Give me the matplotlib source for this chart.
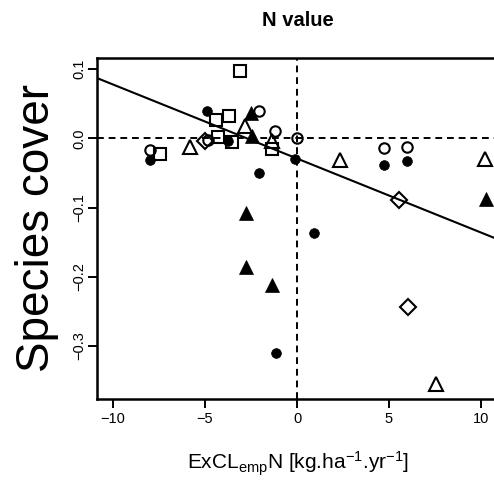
import matplotlib
matplotlib.use("Agg")
import matplotlib.pyplot as plt

plt.rcParams['font.family'] = ['Liberation Sans', 'DejaVu Sans']
plt.rcParams['mathtext.fontset'] = 'custom'
plt.rcParams['mathtext.rm'] = 'Liberation Sans'
plt.rcParams['mathtext.it'] = 'Liberation Sans'

# Exceedance of empirical critical load (x) vs change in species cover (y)
filled_circle_x = [-7.99, -4.90, -3.75, -2.05, -0.10, 0.92, 4.75, 5.96, -1.16]
filled_circle_y = [-0.031, 0.039, -0.003, -0.050, -0.030, -0.137, -0.039, -0.032, -0.310]

filled_triangle_x = [-2.77, -2.77, -1.38, 10.27, -2.50, -2.42]
filled_triangle_y = [-0.108, -0.186, -0.212, -0.087, 0.037, 0.003]

open_triangle_x = [-5.80, -2.85, -1.38, 2.34, 10.20, 7.55]
open_triangle_y = [-0.012, 0.018, -0.003, -0.031, -0.029, -0.355]

open_circle_x = [-8.00, -4.85, -2.05, -1.20, 0.00, 4.75, 5.96]
open_circle_y = [-0.017, -0.002, 0.040, 0.011, 0.000, -0.014, -0.012]

open_square_x = [-3.10, -7.45, -4.40, -3.68, -4.28, -3.55, -1.38]
open_square_y = [0.098, -0.022, 0.026, 0.033, 0.002, -0.005, -0.015]

open_diamond_x = [-5.00, 5.56, 6.05]
open_diamond_y = [-0.003, -0.089, -0.243]

# Fitted linear trend
fit_intercept = -0.029
fit_slope = -0.0107

x_ticks = [-10, -5, 0, 5, 10]
y_ticks = [-0.3, -0.2, -0.1, 0.0, 0.1]

fig = plt.figure(figsize=(4.94, 4.80), dpi=100)
ax = fig.add_axes([97 / 494, 1 - 399 / 480, (499.4 - 97) / 494, (399 - 58) / 480])
xlim = (-10.87, 11.0)
ylim = (-0.3766, 0.1163)
ax.set_xlim(*xlim)
ax.set_ylim(*ylim)

ax.axhline(0, color='black', lw=1.4, ls=(0, (3.5, 2.5)), zorder=1)
ax.axvline(0, color='black', lw=1.4, ls=(0, (3.5, 2.5)), zorder=1)

ax.plot(xlim, [fit_intercept + fit_slope * v for v in xlim], color='black', lw=1.5, zorder=2)

mew = 1.5
ax.plot(open_square_x, open_square_y, ls='none', marker='s', ms=8.5,
        mfc='none', mec='black', mew=mew, zorder=3)
ax.plot(open_circle_x, open_circle_y, ls='none', marker='o', ms=7.5,
        mfc='none', mec='black', mew=mew, zorder=3)
ax.plot(open_triangle_x, open_triangle_y, ls='none', marker='^', ms=10,
        mfc='none', mec='black', mew=mew, zorder=3)
ax.plot(open_diamond_x, open_diamond_y, ls='none', marker='D', ms=8,
        mfc='none', mec='black', mew=mew, zorder=3)
ax.plot(filled_circle_x, filled_circle_y, ls='none', marker='o', ms=7,
        mfc='black', mec='black', mew=0.5, zorder=4)
ax.plot(filled_triangle_x, filled_triangle_y, ls='none', marker='^', ms=10,
        mfc='black', mec='black', mew=0.5, zorder=4)

for s in ax.spines.values():
    s.set_linewidth(1.8)

ax.set_xticks(x_ticks)
ax.set_xticklabels(['\u221210', '\u22125', '0', '5', '10'])
ax.set_yticks(y_ticks)
ax.set_yticklabels(['\u22120.3', '\u22120.2', '\u22120.1', '0.0', '0.1'], rotation=90, va='center')
ax.tick_params(direction='out', length=6.5, width=1.4, labelsize=10.5)
ax.tick_params(axis='x', pad=3)
ax.tick_params(axis='y', pad=1.5)

ax.set_xlabel(r'ExCL$_{\mathrm{emp}}$N [kg.ha$^{-1}$.yr$^{-1}$]', fontsize=15, labelpad=17)
ax.set_ylabel('Species cover', fontsize=33, labelpad=9)
ax.set_title('N value', fontsize=14.5, fontweight='bold', pad=23)

fig.savefig('out.png', dpi=100)
